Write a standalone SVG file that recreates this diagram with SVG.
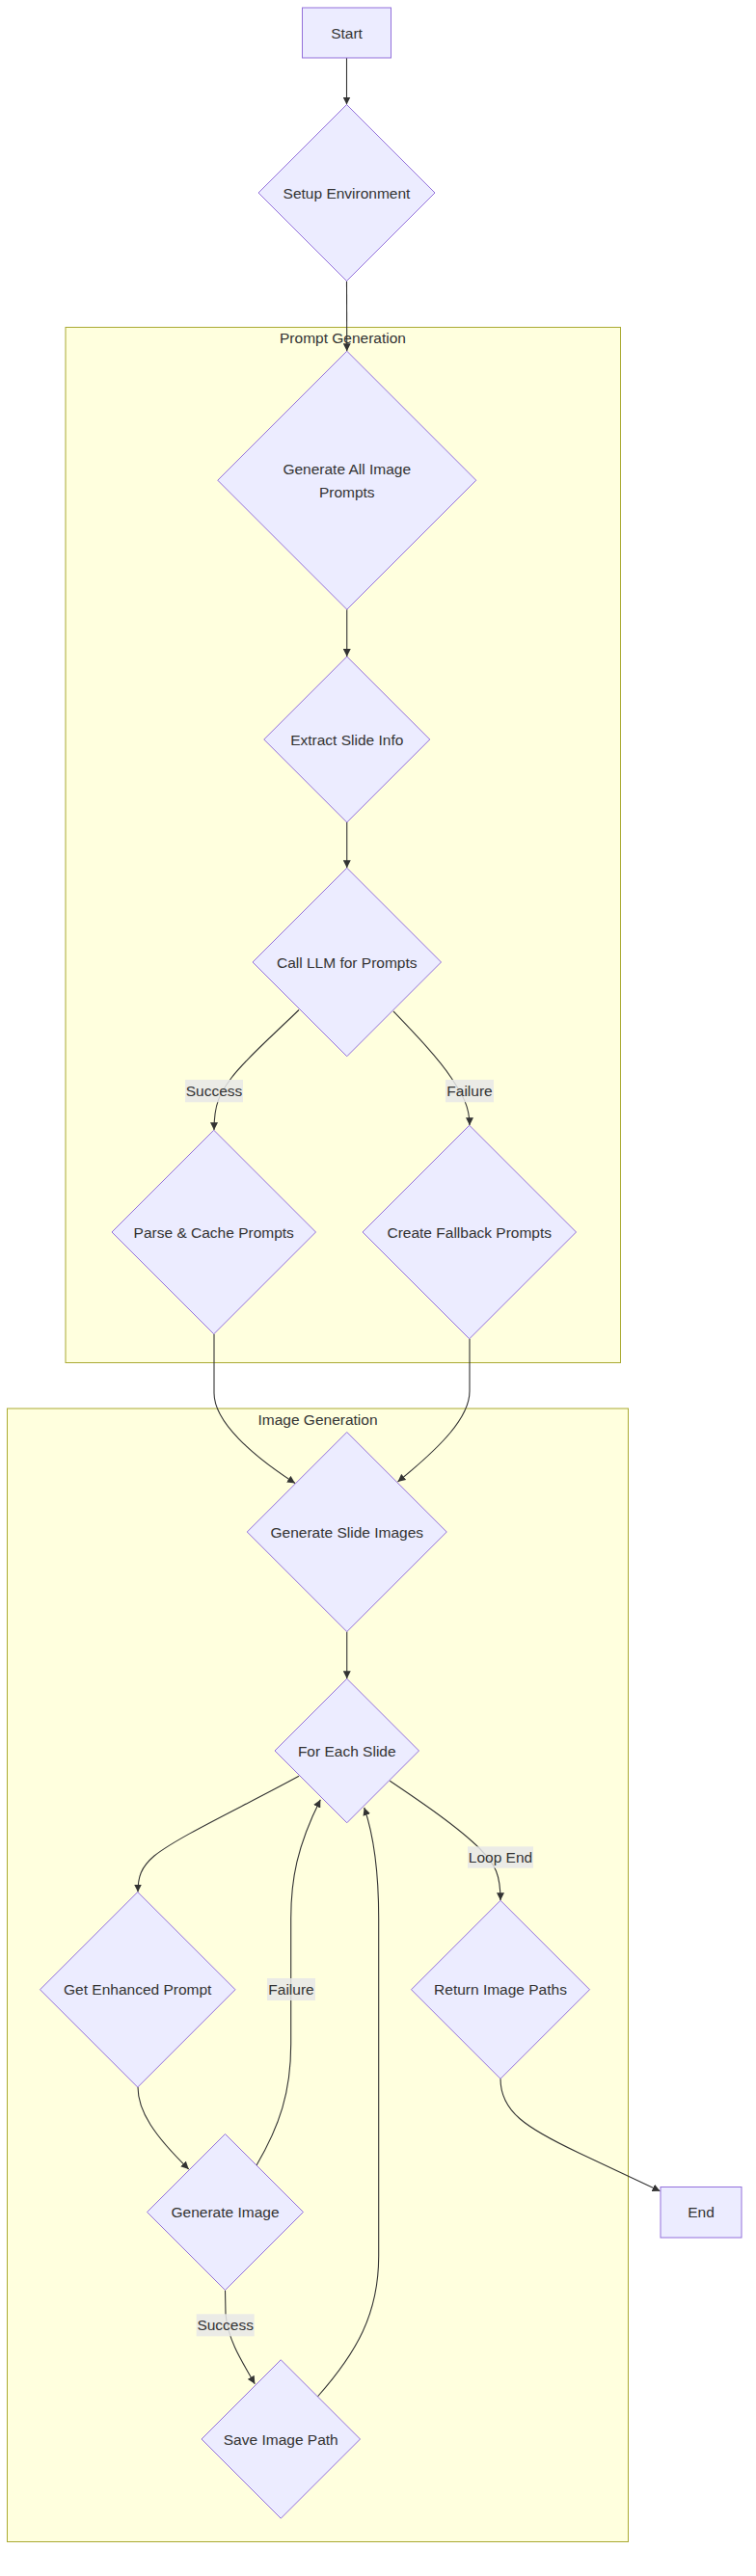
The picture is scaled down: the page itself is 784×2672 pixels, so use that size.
<svg xmlns="http://www.w3.org/2000/svg" width="784" height="2672" viewBox="0 0 784 2672">
<style>
text{font-family:"Trebuchet MS","Liberation Sans",Arial,sans-serif;font-size:15.5px;fill:#333333;text-anchor:middle;dominant-baseline:central}
.cluster rect{fill:#ffffde;stroke:#aaaa33;stroke-width:1}
.node polygon,.node rect{fill:#ececff;stroke:#9370db;stroke-width:1}
.edge{fill:none;stroke:#333333;stroke-width:1.1}
.lbl rect{fill:#e8e8e8;opacity:0.85}
</style>
<defs>
<marker id="arrow" viewBox="0 0 10 10" refX="10" refY="5" markerUnits="userSpaceOnUse" markerWidth="8" markerHeight="8" orient="auto">
<path d="M0,0 L10,5 L0,10 z" fill="#333333"/>
</marker>
</defs>
<rect width="784" height="2672" fill="#ffffff"/>

<g id="cluster-prompt-generation" class="cluster">
<rect x="68" y="339.5" width="575.5" height="1074"/>
<text x="355.5" y="350.5">Prompt Generation</text>
</g>
<g id="cluster-image-generation" class="cluster">
<rect x="7.5" y="1461" width="644" height="1175.5"/>
<text x="329.5" y="1472.7">Image Generation</text>
</g>

<g id="connectors">
<path class="edge" marker-end="url(#arrow)" d="M359.5,60 L359.5,108.5"/>
<path class="edge" marker-end="url(#arrow)" d="M359.5,291.5 L359.75,364.2"/>
<path class="edge" marker-end="url(#arrow)" d="M359.75,632.2 L359.75,681"/>
<path class="edge" marker-end="url(#arrow)" d="M359.75,853 L359.75,900.25"/>
<path class="edge" marker-end="url(#arrow)" d="M310,1047.5 C285,1072 255,1098 240,1118 C228,1134 222,1145 222,1172.25"/>
<path class="edge" marker-end="url(#arrow)" d="M408,1049 C430,1072 455,1098 468,1118 C480,1136 487,1148 487,1167.25"/>
<path class="edge" marker-end="url(#arrow)" d="M222,1383.75 L222,1445 C222,1475 262,1510 306,1538.5"/>
<path class="edge" marker-end="url(#arrow)" d="M487,1388.75 L487,1443 C487,1470 458,1500 412.5,1537"/>
<path class="edge" marker-end="url(#arrow)" d="M359.75,1692.5 L359.75,1741.25"/>
<path class="edge" marker-end="url(#arrow)" d="M310,1842.3 C250,1875 185,1905 160,1925 C146,1937 143,1947 143,1962.5"/>
<path class="edge" marker-end="url(#arrow)" d="M404.3,1847.3 C435,1868 475,1895 498,1918 C514,1934 519,1945 519,1971.25"/>
<path class="edge" marker-end="url(#arrow)" d="M143,2165 C143,2190 160,2215 195.7,2250"/>
<path class="edge" marker-end="url(#arrow)" d="M233.5,2375.5 L234,2400 C236,2425 248,2445 264.3,2472.7"/>
<path class="edge" marker-end="url(#arrow)" d="M266,2246 C290,2205 301.7,2170 301.7,2120 L301.7,1990 C301.7,1950 308,1915 332.3,1866.7"/>
<path class="edge" marker-end="url(#arrow)" d="M329.3,2486 C370,2440 392.7,2400 392.7,2340 L392.7,1990 C392.7,1940 388,1905 377.7,1875"/>
<path class="edge" marker-end="url(#arrow)" d="M519,2156.25 C519,2190 545,2207 600,2233 L684.5,2272.7"/>
</g>

<g id="edge-labels">
<g class="lbl"><rect x="192" y="1120" width="60" height="23.3"/><text x="222" y="1131.6">Success</text></g>
<g class="lbl"><rect x="462" y="1120" width="50" height="23.3"/><text x="487" y="1131.6">Failure</text></g>
<g class="lbl"><rect x="485" y="1915.3" width="68" height="22.4"/><text x="519" y="1926.5">Loop End</text></g>
<g class="lbl"><rect x="277" y="2052" width="50" height="23"/><text x="302" y="2063.5">Failure</text></g>
<g class="lbl"><rect x="203.7" y="2400.3" width="60" height="23"/><text x="233.7" y="2411.8">Success</text></g>
</g>

<g id="node-start" class="node">
<rect x="313.5" y="8" width="92" height="52"/>
<text x="359.5" y="34">Start</text>
</g>
<g id="node-setup-environment" class="node">
<polygon points="359.5,108.5 451,200 359.5,291.5 268,200"/>
<text x="359.5" y="200">Setup Environment</text>
</g>
<g id="node-generate-all-image-prompts" class="node">
<polygon points="359.75,364.2 493.75,498.2 359.75,632.2 225.75,498.2"/>
<text x="359.75" y="486">Generate All Image</text>
<text x="359.75" y="510">Prompts</text>
</g>
<g id="node-extract-slide-info" class="node">
<polygon points="359.75,681 445.75,767 359.75,853 273.75,767"/>
<text x="359.75" y="767">Extract Slide Info</text>
</g>
<g id="node-call-llm" class="node">
<polygon points="359.75,900.25 457.5,998 359.75,1095.75 262,998"/>
<text x="359.75" y="998">Call LLM for Prompts</text>
</g>
<g id="node-parse-cache" class="node">
<polygon points="221.75,1172.25 327.5,1278 221.75,1383.75 116,1278"/>
<text x="221.75" y="1278">Parse &amp; Cache Prompts</text>
</g>
<g id="node-create-fallback" class="node">
<polygon points="486.75,1167.25 597.5,1278 486.75,1388.75 376,1278"/>
<text x="486.75" y="1278">Create Fallback Prompts</text>
</g>
<g id="node-generate-slide-images" class="node">
<polygon points="359.75,1485.5 463.25,1589 359.75,1692.5 256.25,1589"/>
<text x="359.75" y="1589">Generate Slide Images</text>
</g>
<g id="node-for-each-slide" class="node">
<polygon points="359.75,1741.25 434.5,1816 359.75,1890.75 285,1816"/>
<text x="359.75" y="1816">For Each Slide</text>
</g>
<g id="node-get-enhanced-prompt" class="node">
<polygon points="142.75,1962.5 244,2063.75 142.75,2165 41.5,2063.75"/>
<text x="142.75" y="2063.75">Get Enhanced Prompt</text>
</g>
<g id="node-return-image-paths" class="node">
<polygon points="519,1971.25 611.5,2063.75 519,2156.25 426.5,2063.75"/>
<text x="519" y="2063.75">Return Image Paths</text>
</g>
<g id="node-generate-image" class="node">
<polygon points="233.5,2213.5 314.5,2294.5 233.5,2375.5 152.5,2294.5"/>
<text x="233.5" y="2294.5">Generate Image</text>
</g>
<g id="node-save-image-path" class="node">
<polygon points="291.25,2447.75 373.5,2530 291.25,2612.25 209,2530"/>
<text x="291.25" y="2530">Save Image Path</text>
</g>
<g id="node-end" class="node">
<rect x="685" y="2268.5" width="84" height="52.5"/>
<text x="727" y="2294.5">End</text>
</g>
</svg>
